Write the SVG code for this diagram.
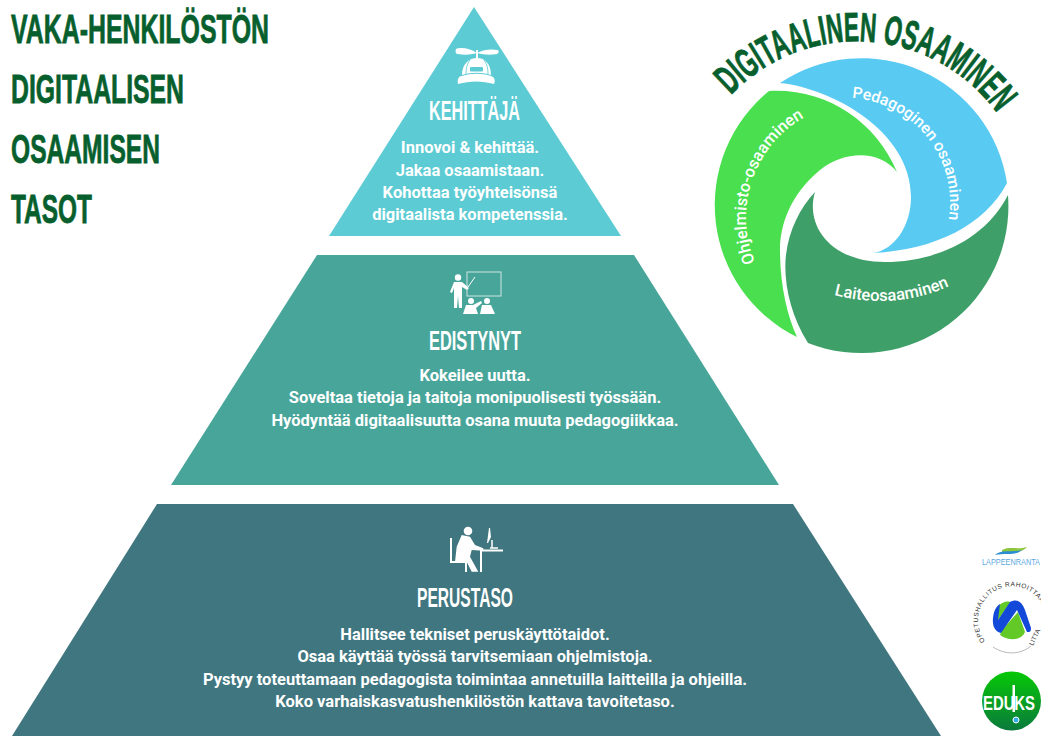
<svg xmlns="http://www.w3.org/2000/svg" width="1041" height="736" viewBox="0 0 1041 736">
<style>
.t{font-family:"Liberation Sans",sans-serif;font-weight:700;fill:#085f2e;stroke:#085f2e;stroke-width:.8}
.h{font-family:"Liberation Sans",sans-serif;font-weight:700;fill:#fff;font-size:27px}
.b{font-family:Roboto,"Liberation Sans",sans-serif;font-weight:700;fill:#fff;font-size:16.5px;text-anchor:middle}
.c{font-family:Roboto,"Liberation Sans",sans-serif;font-weight:500;fill:#fff;font-size:16.5px}
.i{fill:#fff}
.s{fill:none;stroke:#fff;stroke-width:2}
</style>
<defs>
<path id="arcT" d="M731,95 A173.600 173.600 0 0 1 997,113"/>
<path id="arcP" d="M852,98 A105 105 0 0 1 945,235"/>
<path id="arcO" d="M755,262 A115 115 0 0 1 820,110"/>
<path id="arcL" d="M834,295 Q900,312 960,281"/>
<path id="opharc" d="M985,641 A34 34 0 1 1 1046,620"/>
<linearGradient id="ed" x1="0" y1="0" x2="0" y2="1"><stop offset="0" stop-color="#06c806"/><stop offset="1" stop-color="#0a7a3c"/></linearGradient>
</defs>
<g id="title">
<text class="t" x="11" y="42.500" font-size="41" textLength="258" lengthAdjust="spacingAndGlyphs">VAKA-HENKILÖSTÖN</text>
<text class="t" x="11" y="102.500" font-size="41" textLength="173" lengthAdjust="spacingAndGlyphs">DIGITAALISEN</text>
<text class="t" x="11" y="162.500" font-size="41" textLength="149" lengthAdjust="spacingAndGlyphs">OSAAMISEN</text>
<text class="t" x="11" y="222.500" font-size="41" textLength="81" lengthAdjust="spacingAndGlyphs">TASOT</text>
</g>
<g id="kehittaja">
<polygon points="474,7 621,236 329,236" fill="#5ccbd3"/>
<g>
<path class="i" d="M477,53 C470,48 460,47 456,49 C455,52 456,54 458,54 C464,55 470,55 477,53 C484,55 491,55 497,54 C499,53 499,51 498,50 C492,49 484,49 477,53Z"/>
<rect class="i" x="476" y="50" width="2" height="9"/>
<path class="i" d="M462,75 C462,64 469,58 477,58 C485,58 491,64 491,75 C482,72 471,72 462,75Z"/>
<rect x="470" y="67" width="13" height="4.500" rx="1" fill="#5ccbd3"/>
<path d="M470,60 C467,64 466,68 466,74 M484,60 C487,64 488,68 488,74" fill="none" stroke="#5ccbd3" stroke-width=".8"/>
<path class="i" d="M458,84 C457,79 459,76 462,76 C471,73 482,73 491,76 C494,77 496,80 494,84 C482,80.500 470,80.500 458,84Z"/>
</g>
<text class="h" x="429" y="120" textLength="91" lengthAdjust="spacingAndGlyphs">KEHITTÄJÄ</text>
<text class="b" x="470" y="153">Innovoi &amp; kehittää.</text>
<text class="b" x="470" y="175.500">Jakaa osaamistaan.</text>
<text class="b" x="470" y="198">Kohottaa työyhteisönsä</text>
<text class="b" x="470" y="220">digitaalista kompetenssia.</text>
</g>
<g id="edistynyt">
<polygon points="317,255 634,255 779,485 171,485" fill="#48a59a"/>
<g>
<rect x="467" y="272" width="34" height="24" fill="none" stroke="#cfe6e2" stroke-width="1"/>
<path d="M468,287 L475,277" fill="none" stroke="#fff" stroke-width="1"/>
<circle class="i" cx="458" cy="277.500" r="3.200"/>
<path class="i" d="M450,292 L454,282 L462,282 L469,288 L467,290 L462,287 L462,308 L459,308 L458,296 L457,308 L454,308 L454,288 L452,293Z"/>
<circle class="i" cx="471" cy="301" r="3"/>
<path class="i" d="M463,314 L466,305 L473,305 L481,301 L482,303 L476,308 L478,314Z"/>
<circle class="i" cx="487" cy="301" r="3"/>
<path class="i" d="M480,314 L482,305 L491,305 L495,314Z"/>
</g>
<text class="h" x="429" y="350" textLength="92" lengthAdjust="spacingAndGlyphs">EDISTYNYT</text>
<text class="b" x="475" y="381">Kokeilee uutta.</text>
<text class="b" x="475" y="403">Soveltaa tietoja ja taitoja monipuolisesti työssään.</text>
<text class="b" x="475" y="426">Hyödyntää digitaalisuutta osana muuta pedagogiikkaa.</text>
</g>
<g id="perustaso">
<polygon points="157,504 793,504 941,736 12,736" fill="#40767f"/>
<g>
<circle class="i" cx="468" cy="531" r="4.300"/>
<path class="i" d="M461.700,535 L470,536.700 L475,545 L483.300,548.300 L483.300,550.700 L471.700,550 L470,556.700 L478.300,571.700 L471.700,571.700 L466.700,561.700 L455,561.700 L456.700,546.700Z"/>
<path class="s" d="M451,538 V562 H466 V572"/>
<path class="s" d="M480,550.500 H503 M481,550 V572"/>
<path class="i" d="M489,528 L490,528 L491,537 L488,543 L487,543Z"/>
<path d="M492,540 V548 M490,548 H498" fill="none" stroke="#fff" stroke-width="1.500"/>
</g>
<text class="h" x="417" y="607" textLength="96" lengthAdjust="spacingAndGlyphs">PERUSTASO</text>
<text class="b" x="475" y="640">Hallitsee tekniset peruskäyttötaidot.</text>
<text class="b" x="475" y="662">Osaa käyttää työssä tarvitsemiaan ohjelmistoja.</text>
<text class="b" x="475" y="685">Pystyy toteuttamaan pedagogista toimintaa annetuilla laitteilla ja ohjeilla.</text>
<text class="b" x="475" y="707">Koko varhaiskasvatushenkilöstön kattava tavoitetaso.</text>
</g>
<g id="osaaminen">
<path id="blue" fill="#59cbf3" d="M780,83 A147 147 0 0 1 1007,183 C985,225 935,250 873,253 C895,250 911,225 911,197 C911,130 830,88 780,83Z"/>
<path id="light" fill="#4adf4e" d="M769,91 C825,88 875,120 897,172 C880,150 845,150 820,170 C790,195 780,225 780,250 C780,285 787,315 797,337 A147 147 0 0 1 769,91Z"/>
<path id="dark" fill="#3ea068" d="M815,192 C805,225 830,262 885,262 C935,262 985,240 1008,195 A147 147 0 0 1 808,343 C790,315 783,280 786,255 C789,230 800,208 815,192Z"/>
<text class="c" font-size="16"><textPath href="#arcP" style="font-size:15.800px">Pedagoginen osaaminen</textPath></text>
<text class="c"><textPath href="#arcO">Ohjelmisto-osaaminen</textPath></text>
<text class="c"><textPath href="#arcL">Laiteosaaminen</textPath></text>
<text class="t" font-size="41" textLength="304" lengthAdjust="spacingAndGlyphs"><textPath href="#arcT" textLength="304" lengthAdjust="spacingAndGlyphs">DIGITAALINEN OSAAMINEN</textPath></text>
</g>
<g id="lappeenranta">
<path d="M1002,550 C1010,546 1018,550 1027,547 C1022,553 1012,552 1002,553Z" fill="#8cc63f"/>
<path d="M995,555 C1002,549 1012,553 1022,550 C1016,556 1005,553 995,555Z" fill="#2b8ed0"/>
<text x="982" y="565" font-family="Liberation Sans,sans-serif" font-size="8.500" fill="#5aa7df" textLength="58" lengthAdjust="spacingAndGlyphs">LAPPEENRANTA</text>
</g>
<g id="oph">
<path d="M1000,635 C1010,642 1022,640 1025,632 L1018,612 L1002,630Z" fill="#62c926"/>
<path d="M997,608 C1002,600 1012,601 1010,603 L998,620Z" fill="#62c926"/>
<path d="M993,618 C994,609 997,606 1000,604 L998,620 L1010,602 C1017,598 1022,602 1025,610 L1031,628 C1031,632 1030,632 1027,632 L1017,610 L1001,633 C996,632 992,627 993,618Z" fill="#1249d8"/>
<text font-family="Liberation Sans,sans-serif" font-size="6.500" fill="#333" letter-spacing=".6"><textPath href="#opharc">OPETUSHALLITUS RAHOITTAA</textPath></text>
<path d="M993,647 C1005,655 1020,655 1031,646" fill="none" stroke="#999" stroke-width=".7"/>
<text x="1033" y="646" transform="rotate(-65 1033 646)" font-family="Liberation Sans,sans-serif" font-size="6.500" fill="#333">LITTA</text>
</g>
<g id="eduks">
<circle cx="1011.500" cy="701" r="29.500" fill="url(#ed)"/>
<text x="983" y="710" font-family="Liberation Sans,sans-serif" font-weight="700" font-size="20" fill="#fff" textLength="52" lengthAdjust="spacingAndGlyphs">EDUKS</text>
<rect x="1012.500" y="685" width="2.500" height="27" fill="#fff"/>
<circle cx="1016" cy="720" r="3" fill="#2fb0e8" stroke="#fff"/>
</g>
</svg>
